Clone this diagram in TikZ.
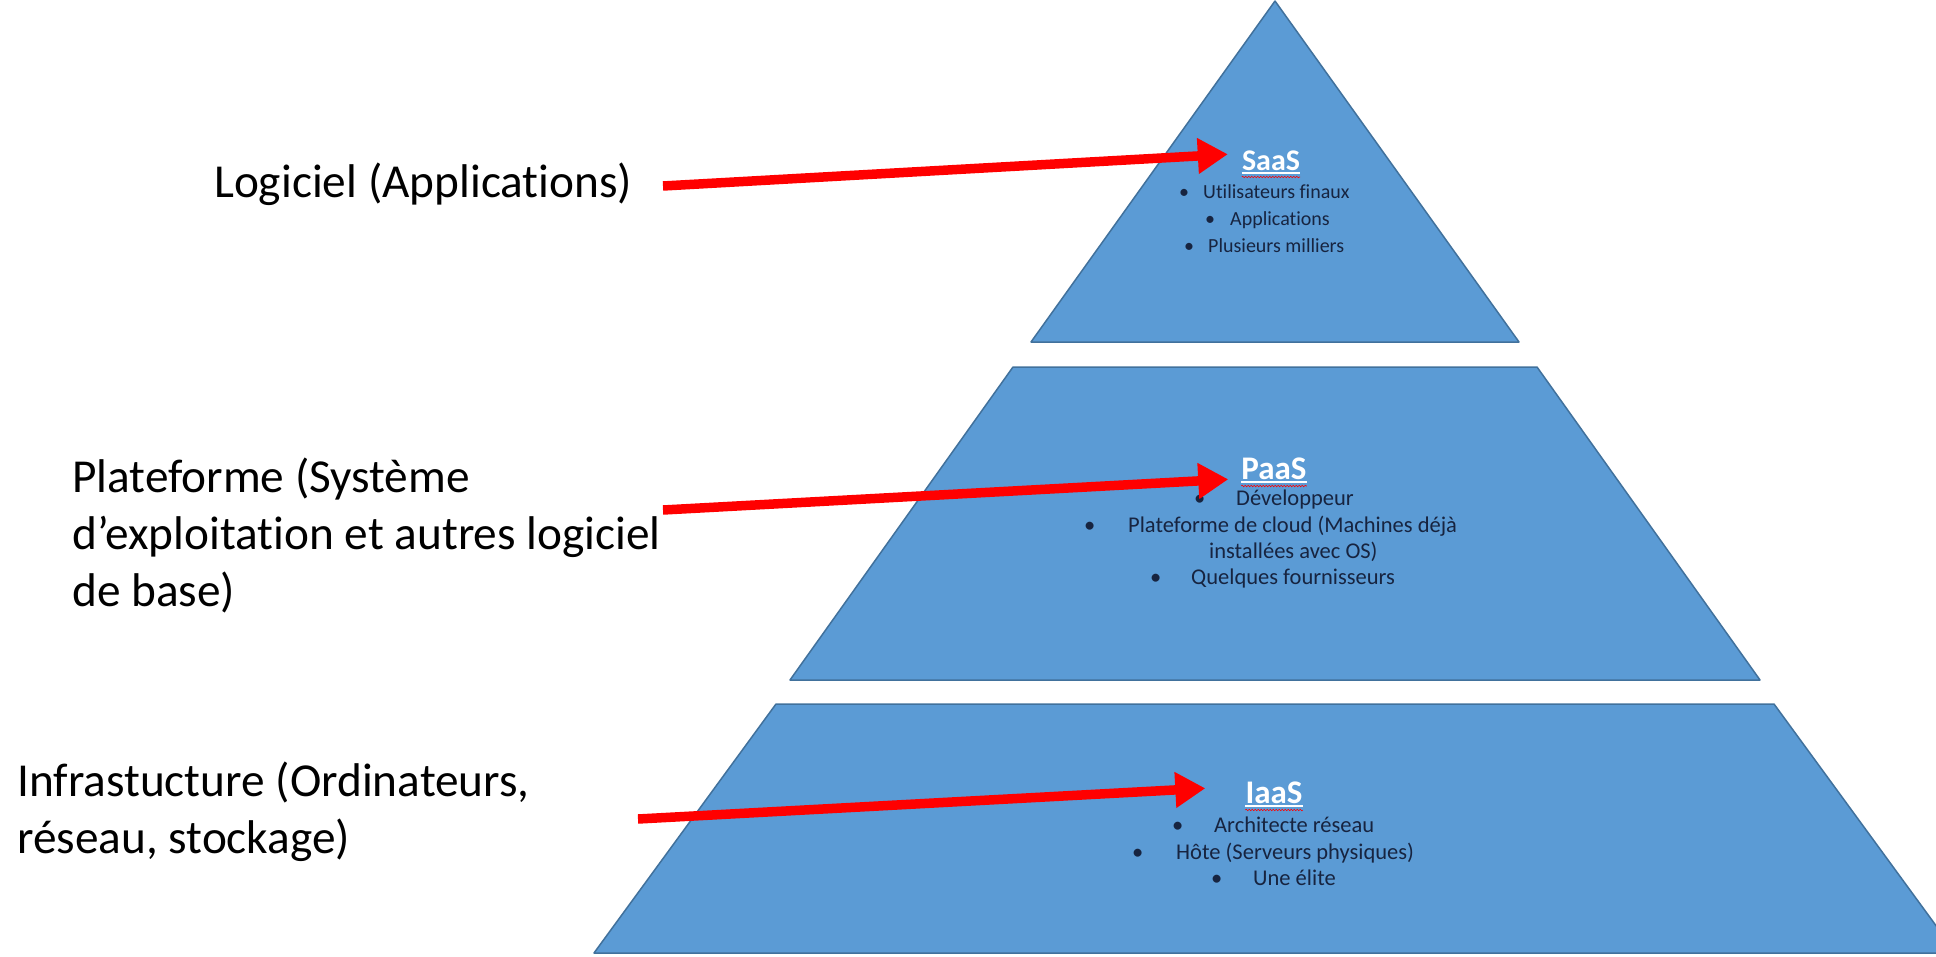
\documentclass[tikz,border=0pt]{standalone}
\usepackage{fontspec}
\setmainfont{Carlito}[Ligatures=NoCommon]
\usetikzlibrary{arrows.meta, decorations.pathmorphing}

\definecolor{bluPiramide}{HTML}{5B9BD5}
\definecolor{bordoPiramide}{HTML}{41719C}
\definecolor{testoPiramide}{HTML}{172440}
\definecolor{rossoFreccia}{HTML}{FF0000}

\newcommand{\voce}[2]{\makebox[#1][l]{•}#2}

\tikzset{
	strato/.style={fill=bluPiramide, draw=bordoPiramide, line width=1.5pt, line join=round},
	etichetta/.style={anchor=base west, inner sep=0pt, font=\fontsize{47.3}{58}\selectfont},
	titolo/.style={anchor=base, inner sep=0pt, text=white, font=\fontsize{33}{40}\selectfont\bfseries},
	riga/.style={anchor=base west, inner sep=0pt, text=testoPiramide, font=\fontsize{22.5}{27}\selectfont},
	freccia/.style={draw=rossoFreccia, line width=9.5pt, -{Triangle[length=30pt, width=34pt]}},
	ondina/.style={red, line width=0.6pt, decorate, decoration={snake, amplitude=0.8pt, segment length=3pt}}
}

\begin{document}
\begin{tikzpicture}[x=1pt, y=-1pt]
		\useasboundingbox (0, 0) rectangle (1936, 956);
		\clip (0, 0) rectangle (1936, 956);

		\coordinate (apice) at (1275, 1);
		\coordinate (daLog) at (663, 186);
		\coordinate (daPiatt) at (663, 510);
		\coordinate (daInfra) at (638, 819);

		% piramide
		\filldraw[strato] (apice) -- (1519, 342) -- (1031, 342) -- cycle;
		\filldraw[strato] (1013, 367) -- (1537, 367) -- (1760, 680) -- (790, 680) -- cycle;
		\filldraw[strato] (776, 704) -- (1774, 704) -- (1956, 953) -- (594, 953) -- cycle;

		% titoli
		\node[titolo, font=\fontsize{30}{36}\selectfont\bfseries] (saas) at (1271, 170) {SaaS};
		\node[titolo] (paas) at (1274, 479) {PaaS};
		\node[titolo] (iaas) at (1274, 803) {IaaS};
		\foreach \t in {saas, paas, iaas} {
			\draw[white, line width=1.4pt] ([yshift=-3pt]\t.base west) -- ([yshift=-3pt]\t.base east);
			\draw[ondina] ([yshift=-7pt]\t.base west) -- ([yshift=-7pt]\t.base east);
		}

		% voci
		\node[riga, font=\fontsize{20}{27}\selectfont] (saas1) at (1179, 198) {\voce{24pt}{Utilisateurs finaux}};
		\node[riga, font=\fontsize{20}{27}\selectfont] (saas2) at (1205, 225) {\voce{25pt}{Applications}};
		\node[riga, font=\fontsize{20}{27}\selectfont] (saas3) at (1184, 252) {\voce{24pt}{Plusieurs milliers}};
		\node[riga] (paas1) at (1194, 505) {\voce{42pt}{Développeur}};
		\node[riga] (paas2) at (1084, 532) {\voce{44pt}{Plateforme de cloud (Machines déjà}};
		\node[riga] (paas3) at (1209, 558) {installées avec OS)};
		\node[riga] (paas4) at (1150, 584) {\voce{41pt}{Quelques fournisseurs}};
		\node[riga] (iaas1) at (1172, 832) {\voce{42pt}{Architecte réseau}};
		\node[riga] (iaas2) at (1132, 859) {\voce{44pt}{Hôte (Serveurs physiques)}};
		\node[riga] (iaas3) at (1211, 885) {\voce{42pt}{Une élite}};

		% etichette
		\node[etichetta] (logiciel) at (214, 197) {Logiciel (Applications)};
		\node[etichetta] (piatt1) at (72, 492) {Plateforme (Système};
		\node[etichetta] (piatt2) at (72, 549) {d’exploitation et autres logiciel};
		\node[etichetta] (piatt3) at (72, 606) {de base)};
		\node[etichetta] (infra1) at (17, 796) {Infrastucture (Ordinateurs,};
		\node[etichetta] (infra2) at (17, 853) {réseau, stockage)};

		% frecce
		\draw[freccia] (daLog) -- ([xshift=-14pt, yshift=6pt]saas.west);
		\draw[freccia] (daPiatt) -- ([xshift=-13pt, yshift=-11pt]paas.west);
		\draw[freccia] (daInfra) -- ([xshift=-40pt, yshift=4pt]iaas.west);
	\end{tikzpicture}
\end{document}
